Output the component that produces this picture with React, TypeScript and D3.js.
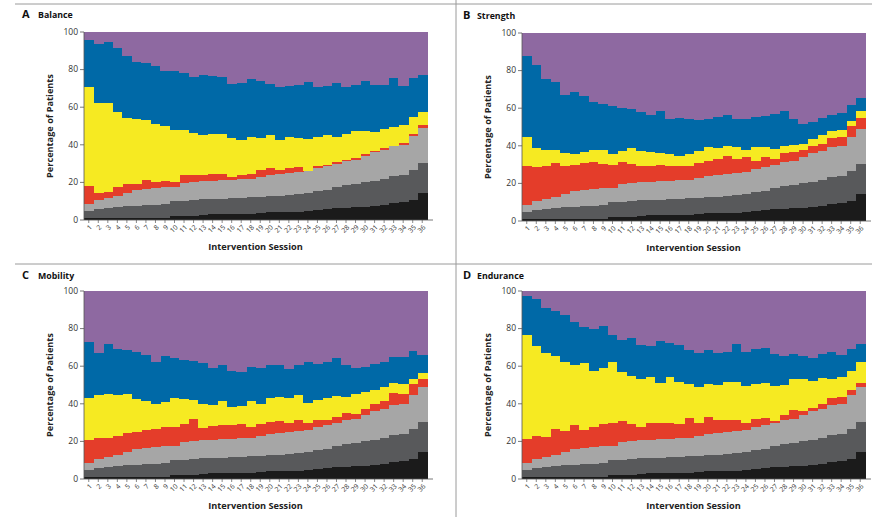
import React from 'react';
import * as d3 from 'd3';

// categories
const sessions = ['1','2','3','4','5','6','7','8','9','10','11','12','13','14','15','16','17','18',
  '19','20','21','22','23','24','25','26','27','28','29','30','31','32','33','34','35','36'];
const yTicks = [0, 20, 40, 60, 80, 100];

// cumulative percentage at the top of each band
// the three grey bands are the same in every panel
const blackTop = [1,1,1,1,1,1,1,1,1.2,2,2,2,2.5,3,3,3,3,3,3.5,4,4,4,4.5,5,5.5,6,6.5,6.5,7,7,7.5,8,9,9.5,10.5,14.5];
const darkGrayTop = [5,6,6.5,7,7.5,7.5,8,8,8.5,10,10,10.5,11,11,11,11.5,11.5,12,12.5,13,13,13.5,14,14.5,15.5,16,17.5,18.5,19,20,21,22,23.5,24,26.5,30.5];
const lightGrayTop = [8.5,10.5,11.5,13,14.5,16,16.5,17,17.5,17.5,19.5,20,20.5,21,21.5,21.5,22,22,23,24,24.5,25,25.5,26,27.5,28.5,30,31.5,32,34,36,37.5,39.5,40,44.5,49];

const balanceRedTop = [18,14.5,15,17.5,19,19,21.5,20,21,20,24,24,24,24.5,24.5,23,24,24.5,26.5,27.5,26.5,27.5,28,26,28.5,29,31,32,33,35,36.5,38.5,39.5,41,46,50.5];
const balanceYellowTop = [70.5,62.5,62,57.5,54,53.5,53,51,50,48,48,46.5,45,45.5,46,43.5,42.5,44,43.5,45,42.5,44,43.5,43,44,45,44,45.5,47.5,47.5,47,48.5,49.5,50.5,55,57.5];
const balanceBlueTop = [95.5,93.5,94.5,91.5,87,84,83.5,82,79.5,79,78,76,77,76.5,76,72.5,73,75,74,72.5,71,71.5,72,73.5,71,71.5,73,71,72,74,72,72,75.5,71.5,75.5,77];

const strengthRedTop = [29,28.5,29.5,31,29,30,31,31.5,30.5,30,31.5,30.5,29.5,29.5,30,29,29,29,31,32,33,34.5,33,34,32,34,33,36,36.5,38,40,41,44,44.5,50.5,55];
const strengthYellowTop = [44.5,39,38,38,36,35.5,36.5,38,38,35.5,37,39,37,36.5,36,35.5,34.5,35.5,37,39.5,39,40,39.5,38,39.5,39.5,38.5,40,40.5,41,43.5,45.5,48,48.5,53,58.5];
const strengthBlueTop = [88,83,75.5,74,67,68.5,66.5,63.5,62,61,60,59.5,58,56.5,58.5,54,55,54.5,53.5,54.5,55.5,56.5,54,54.5,55.5,56,57,58.5,54,51.5,52.5,55,56.5,57.5,61.5,65.5];

const mobilityRedTop = [21,22,22,23,24.5,25,26,26.5,27.5,27.5,29,32,27,28,28.5,28.5,29,27.5,29,30.5,31,30,31.5,30,31.5,31.5,33,35,34.5,37.5,40,41.5,45.5,45,50.5,53];
const mobilityYellowTop = [43,44.5,45,44.5,45,42.5,41.5,40,41,43,42.5,42,40,39.5,41.5,38.5,39,41.5,40,43,43.5,43,44.5,40.5,42,43,44,43.5,45,46.5,47.5,49,51,50.5,53,56.5];
const mobilityBlueTop = [73,67,72,69,68.5,67.5,66,62,65.5,64.5,63.5,63,61.5,59,60.5,57.5,57,59.5,59,60.5,60.5,58.5,60.5,62,61,62,64.5,60.5,59,59.5,61,62.5,65,65,68,66];

const enduranceRedTop = [21.5,23,22.5,26.5,25.5,28.5,26,27.5,29.5,30,31,29,27.5,30,30,30,29,32.5,30,33,31.5,31.5,31.5,30,32,32.5,31,34,36.5,36,38,40,43,43.5,47.5,51];
const enduranceYellowTop = [76.5,70.5,67,65.5,62,60.5,61.5,57.5,59,62.5,57,55,53,54,51,54,51.5,50.5,49,50.5,50,51.5,51.5,49.5,50.5,51,49.5,50,53,53,52,53.5,53,54,57.5,62.5];
const enduranceBlueTop = [97.5,95.5,91,89.5,87.5,83.5,81,80,81.5,76.5,74,75,71.5,71,73.5,72.5,71.5,68.5,67,68.5,67,67.5,72,67.5,69,69.5,66.5,65.5,66.5,65.5,64.5,66.5,67.5,66,69,72];

const bandKeys = ['black', 'darkGray', 'lightGray', 'red', 'yellow', 'blue', 'purple'];
const bandColors = ['#1b1b1b', '#58595b', '#a6a6a6', '#e43d2a', '#f6ea22', '#0069a7', '#8e69a1'];

const panels = [
  { letter: 'A', title: 'Balance', red: balanceRedTop, yellow: balanceYellowTop, blue: balanceBlueTop, x: 84, y: 32 },
  { letter: 'B', title: 'Strength', red: strengthRedTop, yellow: strengthYellowTop, blue: strengthBlueTop, x: 522, y: 33 },
  { letter: 'C', title: 'Mobility', red: mobilityRedTop, yellow: mobilityYellowTop, blue: mobilityBlueTop, x: 84, y: 291 },
  { letter: 'D', title: 'Endurance', red: enduranceRedTop, yellow: enduranceYellowTop, blue: enduranceBlueTop, x: 522, y: 291 },
];

const W = 343;
const H = 188;
const FONT = '"Open Sans", "Noto Sans", sans-serif';

function Panel({ p }) {
  // turn the cumulative levels into band shares, then stack them again with d3
  const rows = sessions.map((s, i) => {
    const tops = [blackTop[i], darkGrayTop[i], lightGrayTop[i], p.red[i], p.yellow[i], p.blue[i], 100];
    const row = { session: s };
    bandKeys.forEach((k, j) => {
      row[k] = Math.max(0, tops[j] - (j ? tops[j - 1] : 0));
    });
    return row;
  });
  const series = d3.stack().keys(bandKeys)(rows);

  const x = d3.scaleBand().domain(sessions).range([0, W]).padding(0);
  const y = d3.scaleLinear().domain([0, 100]).range([H, 0]);
  const left = p.letter === 'A' || p.letter === 'C';

  return (
    <g transform={`translate(${p.x},${p.y})`}>
      {series.map((ser, j) => (
        <g key={ser.key} fill={bandColors[j]} shapeRendering="crispEdges">
          {ser.map((d, i) => (
            <rect key={i} x={x(sessions[i])} width={x.bandwidth() + 0.6}
              y={y(d[1])} height={Math.max(0, y(d[0]) - y(d[1]))} />
          ))}
        </g>
      ))}
      {/* y axis */}
      <line x1={0} x2={0} y1={0} y2={H} stroke="#555" strokeWidth={0.8} />
      {yTicks.map(t => (
        <g key={t} transform={`translate(0,${y(t)})`}>
          <line x1={-4} x2={0} stroke="#555" strokeWidth={0.8} />
          <text x={-6} dy="0.33em" textAnchor="end" fontSize={8.5} fill="#333" fontFamily={FONT}>{t}</text>
        </g>
      ))}
      {/* x axis */}
      <line x1={0} x2={W + 6} y1={H} y2={H} stroke="#555" strokeWidth={0.8} />
      {sessions.map(s => (
        <g key={s} transform={`translate(${x(s) + x.bandwidth() / 2},${H})`}>
          <line y1={0} y2={3} stroke="#555" strokeWidth={0.7} />
          <text transform="translate(2,6) rotate(-45)" textAnchor="end" dy="0.35em"
            fontSize={6.8} fill="#333" fontFamily={FONT}>{s}</text>
        </g>
      ))}
      <text x={W / 2} y={H + 30} textAnchor="middle" fontSize={9.2} fontWeight={700}
        fill="#222" fontFamily={FONT}>Intervention Session</text>
      <text transform={`translate(-31,${H / 2}) rotate(-90)`} textAnchor="middle" fontSize={9.2}
        fontWeight={700} fill="#222" fontFamily={FONT}>Percentage of Patients</text>
      <text x={left ? -62 : -59} y={p.y < 100 ? -14 : -12}
        fontSize={11} fontWeight={700} fill="#111" fontFamily={FONT}>{p.letter}</text>
      <text x={left ? -46 : -45} y={p.y < 100 ? -14 : -12}
        fontSize={8.8} fontWeight={700} fill="#111" fontFamily={FONT}>{p.title}</text>
    </g>
  );
}

export default function App() {
  return (
    <div style={{ position: 'absolute', left: 0, top: 0 }}>
      <svg width={872} height={517} style={{ display: 'block', background: '#fff' }}>
        <line x1={15} x2={872} y1={4} y2={4} stroke="#9a9a9a" strokeWidth={1} />
        <line x1={15} x2={872} y1={264} y2={264} stroke="#9a9a9a" strokeWidth={1} />
        <line x1={456} x2={456} y1={0} y2={517} stroke="#9a9a9a" strokeWidth={1} />
        {panels.map(p => <Panel key={p.letter} p={p} />)}
      </svg>
    </div>
  );
}
